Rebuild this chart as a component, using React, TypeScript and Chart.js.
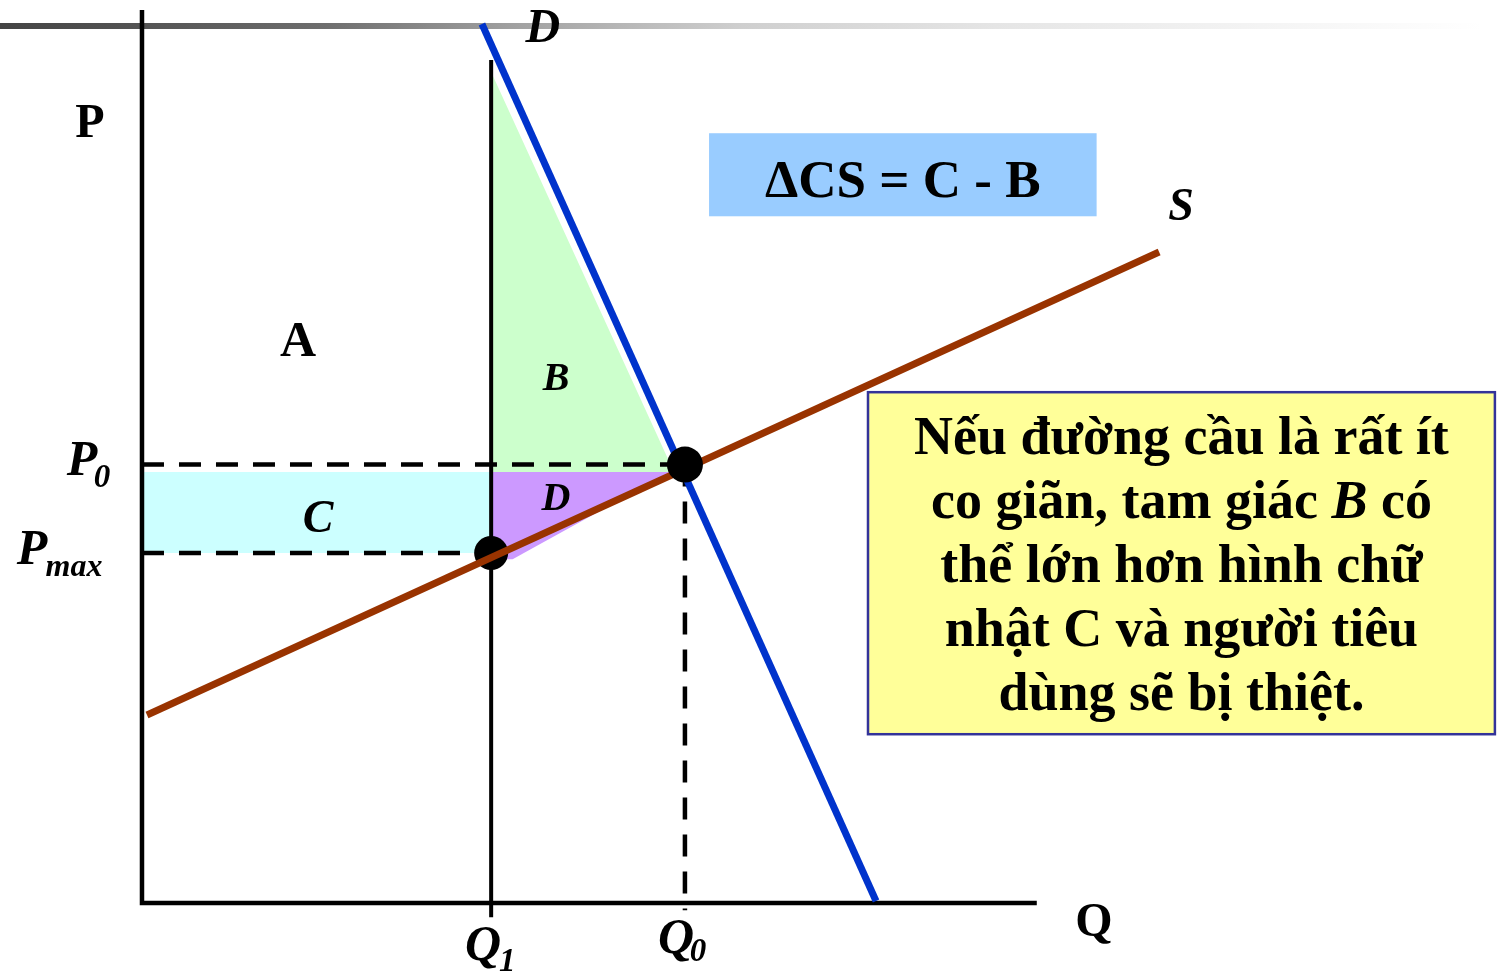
import { useEffect, useRef } from "react";
import { Chart, registerables } from "chart.js";

Chart.register(...registerables);

// ---------- data (economic units: Q horizontal, P vertical, axes run 0..100) ----------
const AXIS_MAX = 100;
const Q1 = 39.1;
const Q0 = 60.8;
const P0 = 49.1;
const PMAX = 39.2;

const demandQ = [38.07, 82.2];
const demandP = [98.43, 0.22];
const supplyQ = [0.56, 113.9];
const supplyP = [21.05, 72.9];

// shaded areas (polygons)
const areaBQ = [Q1, Q1, 59.57, Q1];
const areaBP = [93.06, 48.26, 48.26, 93.06];
const areaDQ = [Q1, 59.2, 41.5, Q1, Q1];
const areaDP = [48.26, 48.26, 38.5, 38.5, 48.26];
const areaCQ = [0.2, Q1, Q1, 0.2, 0.2];
const areaCP = [48.26, 48.26, PMAX, PMAX, 48.26];

// view window
const X_MIN = -15.9;
const X_MAX = 151.96;
const Y_MIN = -7.84;
const Y_MAX = 101.12;

// decorative top bar
const barQ = [-15.9, 149.8];
const barP = [98.2, 98.2];

// text
const yellowLines: [string, boolean][][] = [
  [["Nếu đường cầu là rất ít", false]],
  [["co giãn, tam giác ", false], ["B", true], [" có", false]],
  [["thể lớn hơn hình chữ", false]],
  [["nhật C và người tiêu", false]],
  [["dùng sẽ bị thiệt.", false]],
];
const deltaText = "ΔCS = C - B";

type Lbl = { t: string; q: number; p: number; dx: number; dy: number; size: number; it: boolean };
const labels: Lbl[] = [
  { t: "P", q: 0, p: 87.46, dx: -52, dy: 3, size: 48, it: false },
  { t: "D", q: 44.9, p: 98.1, dx: 0, dy: 3, size: 48, it: true },
  { t: "S", q: 116.35, p: 78.28, dx: 0, dy: 4, size: 46, it: true },
  { t: "A", q: 17.47, p: 63.05, dx: 0, dy: 3, size: 50, it: false },
  { t: "B", q: 46.36, p: 58.9, dx: 0, dy: 3, size: 40, it: true },
  { t: "C", q: 19.71, p: 43.23, dx: 0, dy: 3, size: 46, it: true },
  { t: "D", q: 46.36, p: 45.46, dx: 0, dy: 3, size: 40, it: true },
  { t: "Q", q: 106.6, p: 0, dx: 0, dy: 21, size: 48, it: false },
  { t: "P", q: 0, p: P0, dx: -60, dy: -2, size: 50, it: true },
  { t: "0", q: 0, p: P0, dx: -40, dy: 14, size: 33, it: true },
  { t: "P", q: 0, p: PMAX, dx: -110, dy: -2, size: 50, it: true },
  { t: "max", q: 0, p: PMAX, dx: -68, dy: 15, size: 32, it: true },
  { t: "Q", q: Q1, p: 0, dx: -8, dy: 44, size: 50, it: true },
  { t: "1", q: Q1, p: 0, dx: 16, dy: 59, size: 33, it: true },
  { t: "Q", q: Q0, p: 0, dx: -9, dy: 37, size: 50, it: true },
  { t: "0", q: Q0, p: 0, dx: 13, dy: 49, size: 33, it: true },
];

const deltaBox = { q0: 63.5, q1: 106.9, p0: 86.2, p1: 76.9 };
const yellowBox = { q0: 81.3, q1: 151.5, p0: 57.2, p1: 18.9 };

const FONT = '"Liberation Serif", "Times New Roman", serif';
const font = (size: number, it: boolean) => `${it ? "italic " : ""}bold ${size}px ${FONT}`;

const pts = (qs: number[], ps: number[]) => qs.map((q, i) => ({ x: q, y: ps[i] }));

const line = (label: string, qs: number[], ps: number[], color: any, width: number, dash: number[] = []) => ({
  label,
  data: pts(qs, ps),
  borderColor: color,
  borderWidth: width,
  borderDash: dash,
  pointRadius: 0,
  fill: false,
  tension: 0,
  showLine: true,
});

const area = (label: string, qs: number[], ps: number[], color: string) => ({
  label,
  data: pts(qs, ps),
  borderColor: "rgba(0,0,0,0)",
  borderWidth: 0,
  backgroundColor: color,
  pointRadius: 0,
  fill: "shape",
  tension: 0,
  showLine: true,
});

const dot = (label: string, q: number, p: number, r: number) => ({
  label,
  data: [{ x: q, y: p }],
  showLine: false,
  pointRadius: r,
  pointBackgroundColor: "#000",
  pointBorderWidth: 0,
  pointBorderColor: "#000",
});

const textPlugin = {
  id: "textPlugin",
  afterDatasetsDraw(chart: any) {
    const { ctx, scales } = chart;
    const X = (q: number) => scales.x.getPixelForValue(q);
    const Y = (p: number) => scales.y.getPixelForValue(p);
    ctx.save();

    // delta CS box
    {
      const x0 = X(deltaBox.q0), x1 = X(deltaBox.q1), y0 = Y(deltaBox.p0), y1 = Y(deltaBox.p1);
      ctx.fillStyle = "#99ccff";
      ctx.fillRect(x0, y0, x1 - x0, y1 - y0);
      ctx.fillStyle = "#000";
      ctx.font = font(53, false);
      ctx.textAlign = "center";
      ctx.textBaseline = "alphabetic";
      ctx.fillText(deltaText, (x0 + x1) / 2, y0 + 64);
    }

    // yellow box
    {
      const x0 = X(yellowBox.q0), x1 = X(yellowBox.q1), y0 = Y(yellowBox.p0), y1 = Y(yellowBox.p1);
      ctx.fillStyle = "#ffff99";
      ctx.fillRect(x0, y0, x1 - x0, y1 - y0);
      ctx.strokeStyle = "#333399";
      ctx.lineWidth = 2.5;
      ctx.strokeRect(x0, y0, x1 - x0, y1 - y0);
      ctx.fillStyle = "#000";
      ctx.textAlign = "left";
      ctx.textBaseline = "alphabetic";
      const cx = (x0 + x1) / 2;
      yellowLines.forEach((runs, i) => {
        let total = 0;
        const widths = runs.map(([t, it]) => {
          ctx.font = font(54, it);
          const w = ctx.measureText(t).width;
          total += w;
          return w;
        });
        let x = cx - total / 2;
        const yb = y0 + 62 + i * 64;
        runs.forEach(([t, it], j) => {
          ctx.font = font(54, it);
          ctx.fillText(t, x, yb);
          x += widths[j];
        });
      });
    }

    // labels
    ctx.fillStyle = "#000";
    ctx.textAlign = "center";
    ctx.textBaseline = "middle";
    labels.forEach((l) => {
      ctx.font = font(l.size, l.it);
      ctx.fillText(l.t, X(l.q) + l.dx, Y(l.p) + l.dy);
    });
    ctx.restore();
  },
};

export default function App() {
  const ref = useRef<HTMLCanvasElement>(null);
  useEffect(() => {
    const datasets: any[] = [
      line(
        "bar",
        barQ,
        barP,
        (c: any) => {
          const chart = c.chart;
          const g = chart.ctx.createLinearGradient(0, 0, chart.width * 0.99, 0);
          g.addColorStop(0, "#444444");
          g.addColorStop(0.1, "#555555");
          g.addColorStop(0.22, "#6e6e6e");
          g.addColorStop(0.35, "#a2a2a2");
          g.addColorStop(0.5, "#cfcfcf");
          g.addColorStop(0.67, "#e5e5e5");
          g.addColorStop(0.85, "#f4f4f4");
          g.addColorStop(1, "#ffffff");
          return g;
        },
        6
      ),
      area("C", areaCQ, areaCP, "#ccffff"),
      area("B", areaBQ, areaBP, "#ccffcc"),
      area("D", areaDQ, areaDP, "#cc99ff"),
      line("P0 guide", [0, Q0], [P0, P0], "#000", 4.5, [22, 15]),
      line("Pmax guide", [0, Q1], [PMAX, PMAX], "#000", 4.5, [22, 15]),
      line("Q0 guide", [Q0, Q0], [P0, -0.8], "#000", 4.5, [22, 15]),
      line("Q1", [Q1, Q1], [94.4, -1.6], "#000", 4),
      line("axes", [0, 0, AXIS_MAX + 0.2], [AXIS_MAX, 0, 0], "#000", 4.5),
      dot("Pmax point", Q1, PMAX, 17),
      line("Demand", demandQ, demandP, "#0033cc", 7),
      line("Supply", supplyQ, supplyP, "#993300", 7),
      dot("Equilibrium", Q0, P0, 18),
    ];
    const n = datasets.length;
    datasets.forEach((d, i) => (d.order = n - i));

    const chart = new Chart(ref.current as HTMLCanvasElement, {
      type: "line",
      data: { datasets },
      options: {
        animation: false,
        responsive: true,
        maintainAspectRatio: false,
        events: [],
        layout: { padding: 0, autoPadding: false },
        scales: {
          x: { type: "linear", min: X_MIN, max: X_MAX, display: false },
          y: { type: "linear", min: Y_MIN, max: Y_MAX, display: false },
        },
        plugins: {
          legend: { display: false },
          tooltip: { enabled: false },
        },
      },
      plugins: [textPlugin],
    } as any);
    return () => chart.destroy();
  }, []);

  return (
    <div style={{ position: "fixed", left: 0, top: 0, width: 1499, height: 973, background: "#fff" }}>
      <canvas ref={ref} />
    </div>
  );
}
